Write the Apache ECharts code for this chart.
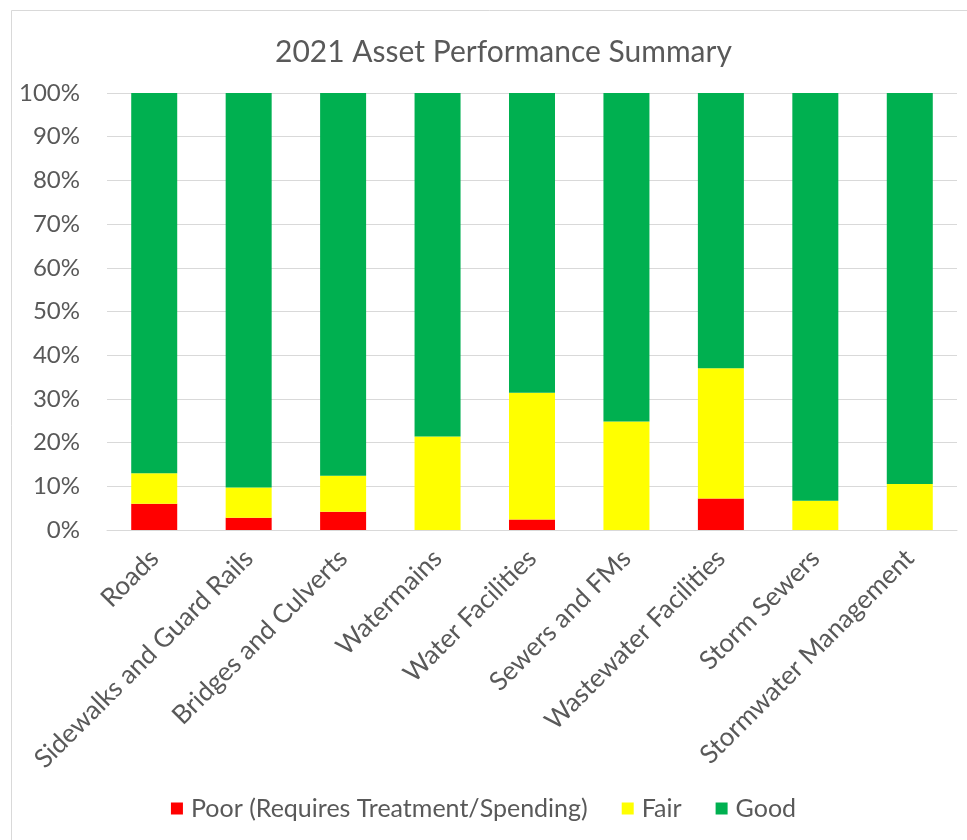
<!DOCTYPE html>
<html>
<head>
<meta charset="utf-8">
<script src="https://cdn.jsdelivr.net/npm/echarts@6/dist/echarts.min.js"></script>
<style>
html,body{margin:0;padding:0;background:#fff;}
#chart{width:967px;height:840px;}
</style>
</head>
<body>
<div id="chart"></div>
<script>
const categories = ["Roads","Sidewalks and Guard Rails","Bridges and Culverts","Watermains","Water Facilities","Sewers and FMs","Wastewater Facilities","Storm Sewers","Stormwater Management"];
const poor = [6.0, 2.8, 4.2, 0, 2.4, 0, 7.2, 0, 0];
const fair = [7.0, 6.9, 8.2, 21.4, 29.0, 24.8, 29.8, 6.7, 10.5];
const good = [87.0, 90.3, 87.6, 78.6, 68.6, 75.2, 63.0, 93.3, 89.5];
const seriesNames = ["Poor (Requires Treatment/Spending)","Fair","Good"];
const yTicks = [0,10,20,30,40,50,60,70,80,90,100];

const FONT = "Lato, 'Open Sans', sans-serif";
const chart = echarts.init(document.getElementById('chart'), null, {renderer:'canvas'});
const colors = ['#ff0000','#ffff00','#00b050'];
const dataSets = [poor, fair, good];
chart.setOption({
  animation:false,
  backgroundColor:'#ffffff',
  graphic:[{type:'rect',left:9,top:8,shape:{width:1000,height:900},style:{fill:'none',stroke:'#d9d9d9',lineWidth:1},silent:true,z:-1}],
  title:{text:'2021 Asset Performance Summary',left:270,top:32,textStyle:{fontFamily:FONT,fontSize:30,fontWeight:'normal',color:'#595959'}},
  legend:{bottom:14,left:'center',itemWidth:12,itemHeight:12,itemGap:34,icon:'rect',
    textStyle:{fontFamily:FONT,fontSize:25,color:'#595959',padding:[0,0,0,3]},data:seriesNames},
  grid:{left:107,right:10,top:93,bottom:310,containLabel:false},
  xAxis:{type:'category',data:categories,
    axisLine:{lineStyle:{color:'#d9d9d9'}},axisTick:{show:false},
    axisLabel:{rotate:45,interval:0,margin:24,fontFamily:FONT,fontSize:26,color:'#595959'}},
  yAxis:{type:'value',min:0,max:100,interval:10,
    axisLabel:{formatter:v=>v+'%',fontFamily:FONT,fontSize:24,color:'#595959',margin:27},
    axisLine:{show:false},axisTick:{show:false},
    splitLine:{lineStyle:{color:'#d9d9d9'}}},
  series:seriesNames.map((n,i)=>({name:n,type:'bar',stack:'s',barWidth:46,
    itemStyle:{color:colors[i]},data:dataSets[i]}))
});
</script>
</body>
</html>
